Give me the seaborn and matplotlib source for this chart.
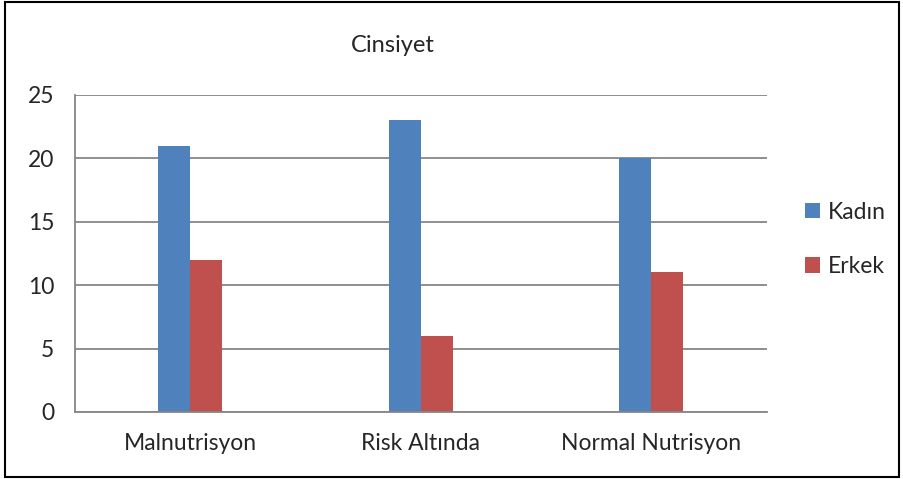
import pandas as pd
import seaborn as sns
import matplotlib.pyplot as plt
from matplotlib.patches import Rectangle

categories = ['Malnutrisyon', 'Risk Altında', 'Normal Nutrisyon']
kadin = [21, 23, 20]
erkek = [12, 6, 11]
series_names = ['Kadın', 'Erkek']
y_ticks = [0, 5, 10, 15, 20, 25]

df = pd.DataFrame({
    'grup': categories * 2,
    'cinsiyet': [series_names[0]] * 3 + [series_names[1]] * 3,
    'sayi': kadin + erkek,
})

sns.set_style('white')
plt.rcParams['font.family'] = ['Lato', 'DejaVu Sans']

fig = plt.figure(figsize=(9.04, 4.79), dpi=100)
ax = fig.add_axes([0.083, 0.14, 0.765, 0.662])

sns.barplot(data=df, x='grup', y='sayi', hue='cinsiyet',
            palette=['#4F81BD', '#C0504D'], width=0.277,
            saturation=1, linewidth=0, ax=ax, legend=True)

ax.set_ylim(0, 25)
ax.set_xlim(-0.5, 2.5)
ax.set_yticks(y_ticks)
ax.set_xticks([-0.5, 0.5, 1.5, 2.5], minor=False)
ax.set_xticklabels([])
ax.set_xticks([0, 1, 2], minor=True)
ax.set_xticklabels(categories, minor=True)
ax.tick_params(axis='x', which='minor', length=0, pad=15, labelsize=16.5)
ax.tick_params(axis='x', which='major', length=10, color='#868686', width=1.2)
ax.tick_params(axis='y', length=7, color='#868686', width=1.2, labelsize=16.5, pad=8)
ax.set_xlabel('')
ax.set_ylabel('')
ax.grid(axis='y', color='#868686', linewidth=1.3)
ax.set_axisbelow(True)
for side in ['top', 'right']:
    ax.spines[side].set_visible(False)
for side in ['left', 'bottom']:
    ax.spines[side].set_color('#868686')
    ax.spines[side].set_linewidth(1.3)

handles, labels = ax.get_legend_handles_labels()
ax.legend(handles, labels, loc='center left', bbox_to_anchor=(0.88, 0.5),
          bbox_transform=fig.transFigure, frameon=False, fontsize=16.5,
          handlelength=0.65, handleheight=0.65, handletextpad=0.35,
          labelspacing=1.45, borderaxespad=0)

fig.text(0.435, 0.905, 'Cinsiyet', ha='center', va='center', fontsize=17)

fig.patches.append(Rectangle((0.005, 0.004), 0.99, 0.992, transform=fig.transFigure,
                             fill=False, edgecolor='black', linewidth=1.5))

fig.savefig('out.png', dpi=100)
